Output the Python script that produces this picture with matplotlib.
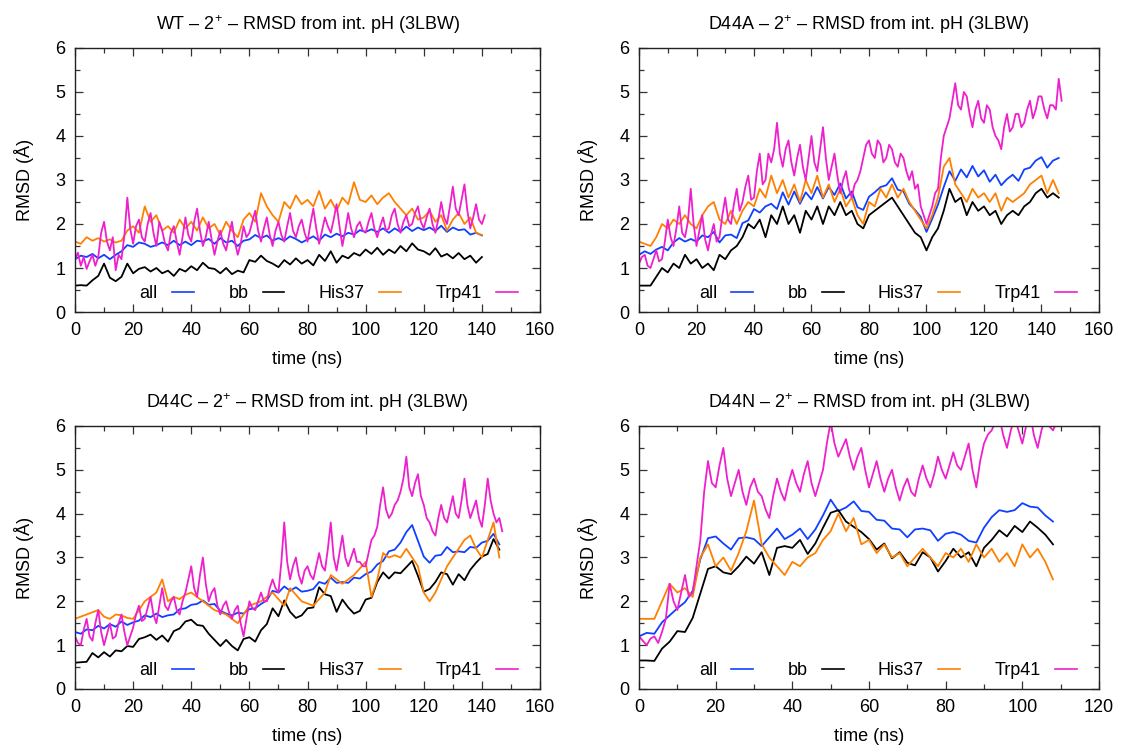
import numpy as np
import matplotlib
matplotlib.use("Agg")
import matplotlib.pyplot as plt
from matplotlib.ticker import MultipleLocator

plt.rcParams['font.family'] = ['Liberation Sans', 'DejaVu Sans']
plt.rcParams['mathtext.fontset'] = 'custom'
plt.rcParams['mathtext.rm'] = 'Liberation Sans'
plt.rcParams['mathtext.default'] = 'regular'

# ---- data (RMSD in Angstrom); all/bb/His37 every 2 ns, Trp41 every 1 ns ----
t_wt = np.arange(0, 141, 2)
t1_wt = np.arange(0, 142, 1)
wt_all = [1.20, 1.28, 1.25, 1.32, 1.22, 1.30, 1.20, 1.30, 1.38, 1.52,
          1.48, 1.58, 1.55, 1.48, 1.52, 1.58, 1.52, 1.62, 1.52, 1.60,
          1.52, 1.62, 1.60, 1.66, 1.55, 1.68, 1.58, 1.62, 1.50, 1.62,
          1.65, 1.75, 1.68, 1.74, 1.62, 1.68, 1.62, 1.72, 1.66, 1.58,
          1.65, 1.72, 1.62, 1.76, 1.70, 1.78, 1.72, 1.80, 1.76, 1.86,
          1.82, 1.88, 1.82, 1.90, 1.80, 1.90, 1.82, 1.94, 1.84, 1.92,
          1.86, 1.92, 1.84, 1.96, 1.82, 1.92, 1.86, 1.88, 1.76, 1.80,
          1.74]
wt_bb = [0.60, 0.61, 0.60, 0.72, 0.82, 1.10, 0.78, 0.70, 0.80, 1.10,
         0.88, 0.98, 1.02, 0.92, 1.00, 0.88, 0.94, 0.82, 0.98, 0.92,
         1.04, 0.95, 1.12, 1.00, 0.98, 0.88, 1.00, 0.86, 0.94, 0.90,
         1.18, 1.14, 1.28, 1.16, 1.10, 1.02, 1.18, 1.08, 1.22, 1.10,
         1.18, 1.06, 1.30, 1.16, 1.38, 1.12, 1.28, 1.22, 1.34, 1.28,
         1.42, 1.32, 1.46, 1.30, 1.42, 1.34, 1.50, 1.38, 1.56, 1.42,
         1.38, 1.30, 1.45, 1.26, 1.32, 1.22, 1.34, 1.20, 1.28, 1.12,
         1.25]
wt_his = [1.60, 1.55, 1.70, 1.62, 1.68, 1.60, 1.65, 1.58, 1.62, 1.85,
          1.95, 1.80, 2.40, 2.05, 2.20, 1.85, 1.95, 1.80, 2.10, 1.90,
          2.05, 1.85, 2.15, 1.90, 2.00, 1.75, 2.05, 1.85, 1.70, 2.10,
          2.25, 2.05, 2.70, 2.40, 2.20, 2.05, 2.50, 2.35, 2.65, 2.45,
          2.55, 2.40, 2.75, 2.35, 2.55, 2.30, 2.60, 2.45, 2.95, 2.55,
          2.50, 2.65, 2.45, 2.60, 2.70, 2.50, 2.35, 2.20, 2.35, 2.10,
          2.15, 2.30, 2.05, 2.20, 1.85, 2.10, 2.25, 2.00, 2.15, 1.80,
          1.75]
wt_trp = [1.20, 1.35, 1.05, 1.25, 0.98, 1.15, 1.30, 1.05, 1.25, 1.80,
          2.05, 1.60, 1.40, 1.70, 0.95, 1.30, 1.20, 1.75, 2.60, 1.90,
          1.55, 1.95, 2.10, 1.70, 1.60, 2.00, 2.25, 1.80, 1.50, 2.05,
          1.85, 1.55, 1.40, 1.80, 1.95, 1.60, 1.30, 1.70, 2.15, 1.75,
          1.60, 2.05, 2.35, 1.85, 1.50, 1.70, 2.05, 1.65, 1.30, 1.60,
          1.85, 1.55, 1.40, 1.75, 2.05, 1.60, 1.30, 1.55, 1.95, 1.70,
          1.80, 2.05, 2.30, 1.85, 1.60, 1.90, 2.15, 1.75, 1.50, 1.85,
          2.05, 1.75, 1.60, 1.95, 2.25, 1.85, 1.70, 1.95, 2.10, 1.80,
          1.60, 2.00, 2.35, 1.90, 1.55, 1.85, 2.15, 1.95, 1.80, 2.10,
          2.45, 1.95, 1.50, 1.85, 2.25, 1.90, 1.70, 1.95, 2.05, 1.85,
          1.80, 2.05, 2.25, 1.90, 1.70, 1.95, 2.15, 1.85, 1.90, 2.20,
          2.35, 2.00, 1.80, 2.05, 2.20, 1.95, 2.00, 2.25, 2.40, 2.05,
          1.90, 2.15, 2.35, 2.00, 1.80, 2.10, 2.50, 2.15, 2.00, 2.40,
          2.85, 2.35, 2.20, 2.55, 2.90, 2.30, 1.90, 2.15, 2.45, 2.10,
          2.00, 2.20]

t_a = np.arange(0, 147, 2)
t1_a = np.arange(0, 148, 1)
a_all = [1.30, 1.38, 1.32, 1.42, 1.48, 1.40, 1.58, 1.68, 1.60, 1.66,
         1.60, 1.74, 1.70, 1.82, 1.58, 1.74, 1.76, 1.68, 2.02, 2.08,
         2.34, 2.26, 2.40, 2.46, 2.34, 2.72, 2.44, 2.74, 2.46, 2.72,
         2.56, 2.84, 2.58, 2.84, 2.66, 2.92, 2.58, 2.74, 2.38, 2.32,
         2.62, 2.72, 2.84, 2.88, 3.04, 2.78, 2.74, 2.46, 2.32, 2.16,
         1.82, 2.12, 2.44, 2.84, 3.20, 2.98, 3.24, 3.06, 3.32, 3.08,
         3.22, 2.96, 3.12, 2.88, 3.02, 3.12, 2.98, 3.24, 3.28, 3.44,
         3.52, 3.28, 3.44, 3.50]
a_bb = [0.60, 0.60, 0.60, 0.80, 1.00, 0.90, 1.10, 1.00, 1.30, 1.10,
        1.20, 1.00, 1.10, 0.95, 1.30, 1.20, 1.40, 1.50, 1.70, 2.00,
        1.90, 2.10, 1.70, 2.20, 2.00, 2.40, 2.00, 2.20, 1.80, 2.30,
        2.10, 2.40, 2.00, 2.40, 2.20, 2.50, 2.20, 2.30, 2.00, 1.90,
        2.20, 2.30, 2.40, 2.50, 2.60, 2.40, 2.20, 2.00, 1.80, 1.70,
        1.40, 1.70, 1.90, 2.30, 2.80, 2.50, 2.60, 2.20, 2.50, 2.30,
        2.40, 2.20, 2.30, 2.00, 2.20, 2.30, 2.20, 2.40, 2.50, 2.70,
        2.80, 2.60, 2.70, 2.60]
a_his = [1.60, 1.55, 1.50, 1.70, 2.00, 1.90, 2.10, 2.00, 2.20, 2.00,
         1.90, 2.20, 2.40, 2.50, 2.10, 2.00, 2.30, 2.00, 2.30, 2.50,
         2.40, 2.80, 2.60, 3.10, 2.70, 3.00, 2.60, 2.90, 2.50, 3.00,
         2.70, 3.10, 2.60, 2.90, 2.50, 2.80, 2.40, 2.60, 2.20, 2.00,
         2.50, 2.40, 2.80, 2.60, 2.90, 2.60, 2.80, 2.50, 2.30, 2.10,
         1.90, 2.20, 2.60, 3.30, 3.50, 2.90, 2.70, 2.50, 2.80, 2.60,
         2.70, 2.50, 2.70, 2.30, 2.60, 2.50, 2.60, 2.70, 2.90, 3.00,
         3.10, 2.70, 3.00, 2.70]
a_trp = [1.10, 1.25, 1.30, 1.05, 1.00, 1.20, 1.40, 1.15, 1.20, 1.60,
         2.10, 1.70, 1.50, 1.90, 2.40, 1.80, 1.70, 2.05, 2.80, 2.00,
         1.50, 1.85, 2.20, 1.65, 1.40, 1.75, 2.00, 1.60, 1.70, 2.20,
         2.60, 2.10, 2.00, 2.45, 2.80, 2.30, 2.50, 2.85, 3.10, 2.55,
         2.60, 3.20, 3.60, 2.90, 3.00, 3.60, 3.40, 3.70, 4.30, 3.60,
         3.30, 3.70, 3.90, 3.40, 3.10, 3.50, 3.80, 3.30, 3.00, 3.50,
         4.00, 3.40, 3.20, 3.70, 4.20, 3.50, 3.00, 3.30, 3.60, 3.10,
         2.70, 3.00, 3.20, 2.80, 2.60, 2.90, 3.00, 3.20, 3.50, 3.80,
         3.90, 3.60, 3.50, 3.90, 3.80, 3.40, 3.50, 3.80, 3.70, 3.40,
         3.30, 3.60, 3.50, 3.20, 3.00, 3.20, 2.80, 2.90, 2.40, 2.20,
         2.00, 2.20, 2.40, 2.70, 2.80, 3.50, 4.00, 4.20, 4.40, 4.80,
         5.20, 4.70, 4.60, 5.00, 4.90, 4.50, 4.20, 4.60, 4.80, 4.40,
         4.30, 4.70, 4.60, 4.20, 4.00, 3.90, 3.70, 4.20, 4.50, 4.10,
         4.20, 4.50, 4.50, 4.20, 4.30, 4.60, 4.80, 4.40, 4.60, 4.90,
         4.90, 4.60, 4.40, 4.70, 4.70, 4.60, 5.30, 4.80]

t_c = np.arange(0, 147, 2)
t1_c = np.arange(0, 148, 1)
c_all = [1.30, 1.26, 1.36, 1.34, 1.44, 1.38, 1.48, 1.42, 1.54, 1.46,
         1.52, 1.56, 1.68, 1.64, 1.72, 1.64, 1.68, 1.70, 1.82, 1.84,
         1.92, 1.94, 2.02, 1.92, 1.94, 1.78, 1.72, 1.68, 1.74, 1.72,
         1.82, 1.84, 1.94, 2.02, 2.24, 2.20, 2.34, 2.24, 2.32, 2.22,
         2.24, 2.28, 2.44, 2.40, 2.54, 2.42, 2.44, 2.42, 2.54, 2.52,
         2.62, 2.68, 2.84, 2.92, 3.14, 3.18, 3.34, 3.58, 3.74, 3.38,
         3.02, 2.88, 3.04, 3.06, 3.24, 3.12, 3.14, 3.12, 3.24, 3.22,
         3.34, 3.38, 3.54, 3.30]
c_bb = [0.60, 0.61, 0.62, 0.82, 0.72, 0.84, 0.74, 0.88, 0.86, 0.98,
        0.96, 1.14, 1.18, 1.24, 1.12, 1.22, 1.08, 1.32, 1.38, 1.54,
        1.58, 1.46, 1.44, 1.26, 1.12, 0.98, 1.12, 0.98, 0.88, 1.14,
        1.18, 1.08, 1.34, 1.48, 1.84, 1.66, 2.02, 1.76, 1.62, 1.68,
        1.84, 1.86, 2.32, 2.16, 2.12, 1.76, 2.04, 1.86, 1.72, 1.78,
        2.04, 2.08, 2.44, 2.66, 2.52, 2.66, 2.64, 2.78, 2.92, 2.58,
        2.22, 2.28, 2.44, 2.66, 2.62, 2.38, 2.62, 2.48, 2.72, 2.88,
        3.02, 3.08, 3.42, 3.18]
c_his = [1.60, 1.65, 1.70, 1.75, 1.80, 1.65, 1.60, 1.70, 1.68, 1.62,
         1.60, 1.80, 2.00, 2.10, 2.20, 2.50, 2.00, 2.10, 2.05, 2.15,
         2.20, 2.10, 2.00, 1.90, 1.80, 1.75, 1.70, 1.60, 1.50, 1.70,
         1.90, 1.95, 2.00, 2.10, 2.20, 2.05, 1.90, 2.30, 2.15, 2.00,
         1.95, 1.90, 2.05, 2.20, 2.60, 2.50, 2.40, 2.50, 2.60, 2.75,
         2.90, 2.10, 2.50, 3.10, 3.00, 3.05, 3.00, 3.20, 3.00, 2.80,
         2.20, 2.00, 2.20, 2.50, 2.80, 3.00, 3.20, 3.40, 3.50, 3.20,
         3.00, 3.40, 3.80, 3.00]
c_trp = [1.20, 1.05, 1.00, 1.35, 1.60, 1.20, 1.10, 1.50, 1.80, 1.30,
         1.00, 1.25, 1.50, 1.15, 1.20, 1.50, 1.70, 1.30, 1.00, 1.20,
         1.40, 1.70, 1.90, 1.55, 1.60, 1.85, 2.10, 1.70, 1.50, 1.90,
         2.30, 1.90, 1.80, 2.00, 2.10, 1.80, 1.70, 2.00, 2.20, 2.50,
         2.80, 2.30, 2.10, 2.60, 3.00, 2.40, 2.00, 2.20, 2.30, 1.90,
         1.70, 1.90, 2.00, 1.75, 1.60, 1.80, 1.90, 1.50, 1.20, 1.60,
         2.00, 1.85, 1.80, 2.00, 2.20, 2.00, 2.00, 2.30, 2.50, 2.30,
         2.20, 2.90, 3.80, 2.90, 2.50, 2.80, 3.00, 2.60, 2.40, 2.70,
         2.80, 2.60, 2.50, 2.80, 3.10, 2.80, 2.70, 3.20, 3.80, 3.00,
         2.70, 3.10, 3.50, 3.00, 2.80, 3.00, 3.20, 2.90, 2.90, 2.80,
         2.80, 3.10, 3.40, 3.50, 3.70, 4.20, 4.60, 4.10, 3.90, 4.00,
         4.20, 4.30, 4.50, 4.80, 5.30, 4.60, 4.40, 4.70, 4.90, 4.40,
         4.20, 3.90, 3.80, 3.60, 3.50, 3.90, 4.20, 3.90, 3.80, 4.10,
         4.40, 4.00, 3.90, 4.30, 4.80, 4.20, 3.90, 4.10, 4.30, 3.90,
         3.70, 4.20, 4.80, 4.30, 4.00, 3.80, 3.90, 3.60]

t_n = np.arange(0, 109, 2)
t1_n = np.arange(0, 110, 1)
n_all = [1.20, 1.28, 1.26, 1.52, 1.68, 1.84, 1.98, 2.24, 2.96, 3.44,
         3.48, 3.32, 3.18, 3.44, 3.46, 3.42, 3.26, 3.46, 3.66, 3.42,
         3.52, 3.66, 3.42, 3.64, 3.96, 4.32, 4.06, 4.14, 4.28, 4.06,
         4.04, 3.86, 3.84, 3.66, 3.64, 3.46, 3.64, 3.66, 3.62, 3.38,
         3.54, 3.58, 3.52, 3.38, 3.34, 3.68, 3.92, 4.08, 4.04, 4.08,
         4.24, 4.16, 4.14, 3.96, 3.82]
n_bb = [0.65, 0.65, 0.64, 0.92, 1.08, 1.32, 1.30, 1.62, 2.18, 2.74,
        2.80, 2.66, 2.62, 2.80, 3.02, 2.86, 3.12, 2.60, 3.22, 3.26,
        3.22, 3.40, 3.08, 3.32, 3.68, 4.02, 4.08, 3.82, 3.70, 3.58,
        3.42, 3.18, 3.32, 2.98, 3.12, 2.88, 2.82, 3.12, 3.00, 2.68,
        2.92, 3.20, 3.00, 3.12, 2.80, 3.22, 3.40, 3.62, 3.48, 3.72,
        3.58, 3.82, 3.68, 3.52, 3.30]
n_his = [1.60, 1.60, 1.60, 2.00, 2.40, 2.20, 2.30, 2.10, 3.00, 3.30,
         2.80, 3.00, 2.70, 3.10, 3.60, 4.30, 3.30, 3.00, 2.80, 2.60,
         2.90, 2.80, 3.00, 3.10, 3.40, 3.60, 4.00, 3.60, 3.90, 3.30,
         3.40, 3.10, 3.30, 3.00, 3.10, 2.80, 3.00, 3.20, 3.00, 2.80,
         3.10, 3.00, 3.20, 2.90, 3.30, 3.00, 3.20, 2.90, 3.10, 2.80,
         3.30, 3.00, 3.20, 2.90, 2.50]
n_trp = [1.20, 1.10, 1.00, 1.15, 1.20, 1.05, 1.30, 1.60, 2.40, 2.00,
         1.80, 2.20, 2.60, 2.10, 2.20, 2.80, 3.40, 4.50, 5.20, 4.70,
         4.60, 5.10, 5.50, 4.80, 4.40, 4.70, 5.00, 4.50, 4.20, 4.60,
         4.80, 4.50, 4.40, 4.10, 3.90, 4.40, 4.80, 4.50, 4.30, 4.70,
         5.00, 4.70, 4.50, 4.90, 5.20, 4.70, 4.40, 4.70, 5.00, 5.60,
         6.10, 5.60, 5.30, 5.50, 5.70, 5.30, 5.00, 5.30, 5.50, 5.00,
         4.60, 4.90, 5.20, 4.80, 4.50, 4.80, 5.00, 4.60, 4.30, 4.60,
         4.80, 4.50, 4.40, 4.80, 5.10, 4.80, 4.60, 4.90, 5.30, 5.00,
         4.80, 5.10, 5.40, 5.10, 5.00, 5.30, 5.60, 5.00, 4.60, 5.20,
         5.60, 5.80, 5.90, 6.10, 6.20, 5.80, 5.50, 5.90, 6.20, 5.90,
         5.60, 6.00, 6.30, 5.80, 5.50, 5.90, 6.20, 6.00, 5.90, 6.10]

names = ['WT', 'D44A', 'D44C', 'D44N']
xmax = [160, 160, 160, 120]
labels = ['all', 'bb', 'His37', 'Trp41']
colors = ['#1040ff', '#000000', '#ff8000', '#ee20cc']

panels = [
    [(t_wt, wt_all), (t_wt, wt_bb), (t_wt, wt_his), (t1_wt, wt_trp)],
    [(t_a, a_all), (t_a, a_bb), (t_a, a_his), (t1_a, a_trp)],
    [(t_c, c_all), (t_c, c_bb), (t_c, c_his), (t1_c, c_trp)],
    [(t_n, n_all), (t_n, n_bb), (t_n, n_his), (t1_n, n_trp)],
]

# axes boxes in figure fraction (left, bottom, width, height)
boxes = [
    [0.0666, 0.5812, 0.4130, 0.3544],
    [0.5675, 0.5812, 0.4085, 0.3544],
    [0.0666, 0.0752, 0.4130, 0.3530],
    [0.5675, 0.0752, 0.4085, 0.3530],
]

fig = plt.figure(figsize=(11.26, 7.45), dpi=100)
fs = 13

for i, series in enumerate(panels):
    ax = fig.add_axes(boxes[i])
    for (t, ys), lab, col in zip(series, labels, colors):
        ax.plot(t, ys, color=col, lw=1.3, label=lab)
    ax.set_xlim(0, xmax[i])
    ax.set_ylim(0, 6)
    ax.xaxis.set_major_locator(MultipleLocator(20))
    ax.xaxis.set_minor_locator(MultipleLocator(10))
    ax.yaxis.set_major_locator(MultipleLocator(1))
    ax.yaxis.set_minor_locator(MultipleLocator(0.5))
    ax.tick_params(which='both', direction='in', top=True, right=True,
                   labelsize=fs, width=0.9, color='#333333')
    ax.tick_params(which='major', length=6, pad=7)
    ax.tick_params(which='minor', length=3.5)
    for sp in ax.spines.values():
        sp.set_linewidth(1.0)
        sp.set_color('#222222')
    ax.set_title(names[i] + ' \u2013 2$^{+}$ \u2013 RMSD from int. pH (3LBW)',
                 fontsize=fs, pad=13)
    ax.set_xlabel('time (ns)', fontsize=fs, labelpad=9)
    ax.set_ylabel('RMSD (\u00c5)', fontsize=fs, labelpad=15)
    leg = ax.legend(ncol=4, markerfirst=False, frameon=False, loc='lower right',
                    bbox_to_anchor=(0.975, -0.005), fontsize=fs, handlelength=1.2,
                    handletextpad=0.8, columnspacing=1.9, borderaxespad=0.2)
    for ln in leg.get_lines():
        ln.set_linewidth(1.2)

fig.savefig('out.png', dpi=100)
